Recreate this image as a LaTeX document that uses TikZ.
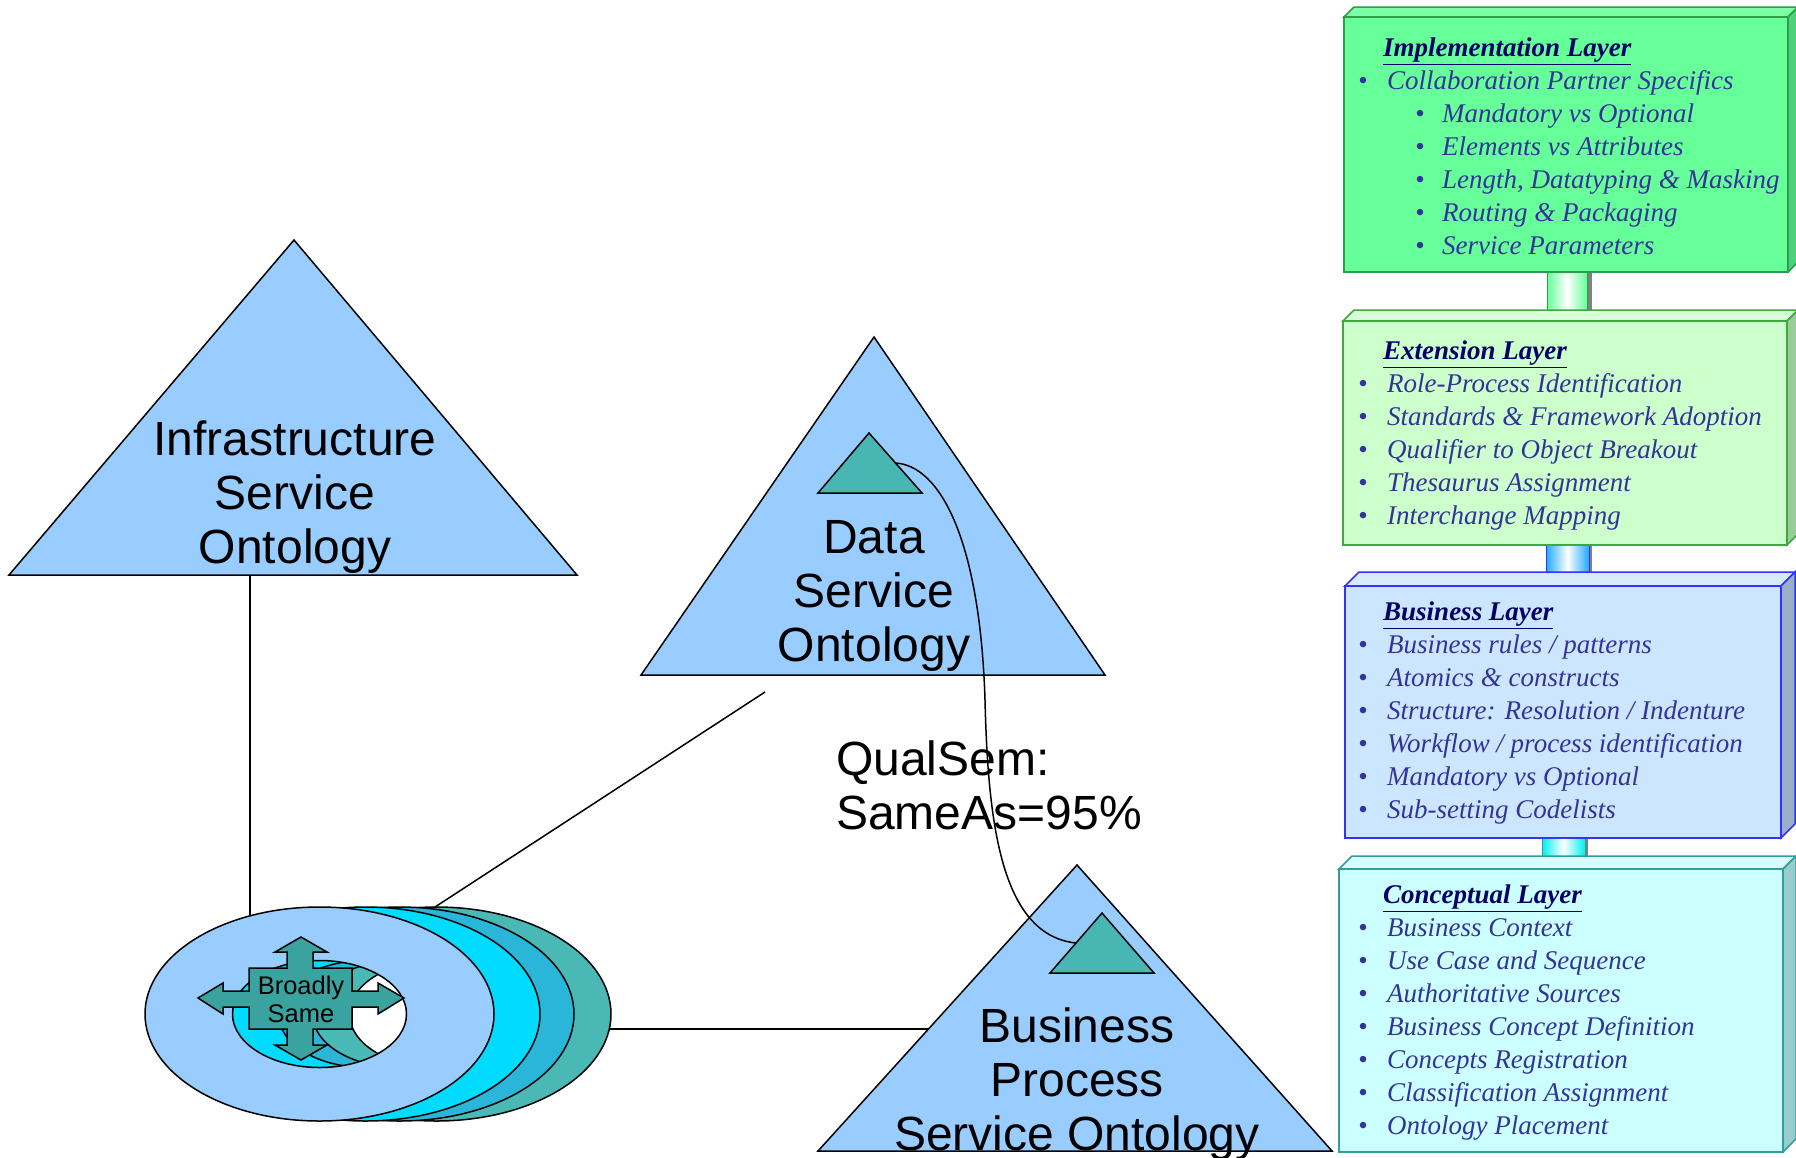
\documentclass[tikz,border=0pt]{standalone}
\usepackage{fontspec}
\setmainfont{Liberation Serif}
\setsansfont{Liberation Sans}
\definecolor{skyblue}{HTML}{99CCFF}
\definecolor{seedteal}{HTML}{48B7B3}
\definecolor{ringcyan}{HTML}{00DBFF}
\definecolor{ringblue}{HTML}{29B6D9}
\definecolor{ringteal}{HTML}{4AB8B5}
\definecolor{crossteal}{HTML}{3AA39F}
\definecolor{itemblue}{HTML}{333399}
\definecolor{titleblue}{HTML}{000066}
\definecolor{implFront}{HTML}{66FF99}
\definecolor{implTop}{HTML}{7DFFA8}
\definecolor{implSide}{HTML}{4FD07A}
\definecolor{implEdge}{HTML}{2E9E4A}
\definecolor{extFront}{HTML}{CCFFCC}
\definecolor{extTop}{HTML}{D8FFD8}
\definecolor{extSide}{HTML}{99CC99}
\definecolor{extEdge}{HTML}{3FA83F}
\definecolor{busFront}{HTML}{CCE6FF}
\definecolor{busTop}{HTML}{D6EBFF}
\definecolor{busSide}{HTML}{9AAEC6}
\definecolor{busEdge}{HTML}{3333FF}
\definecolor{conFront}{HTML}{CCFFFF}
\definecolor{conTop}{HTML}{D8FFFF}
\definecolor{conSide}{HTML}{99CCCC}
\definecolor{conEdge}{HTML}{339E9E}
\definecolor{pipeBlue}{HTML}{22AAFF}
\definecolor{pipeCyan}{HTML}{00F0F0}
\tikzset{bigtri/.style={draw=black, fill=skyblue, line width=1.5pt, line join=miter}}
\tikzset{seedtri/.style={draw=black, fill=seedteal, line width=1.5pt}}
\tikzset{link/.style={draw=black, line width=1.5pt}}
\tikzset{ring/.style={draw=black, line width=1.5pt, even odd rule}}
\tikzset{crossarrow/.style={draw=black, fill=crossteal, line width=1.5pt, line join=miter}}
\tikzset{pipe/.style={left color=#1, right color=#1, middle color=white}}
\tikzset{bigtext/.style={font=\sffamily\fontsize{48}{54}\selectfont, align=center, inner sep=0pt}}
\tikzset{smalltext/.style={font=\sffamily\fontsize{25.5}{28}\selectfont, align=center, inner sep=0pt}}
\tikzset{layertext/.style={anchor=north west, inner sep=0pt, align=left, text=itemblue, font=\itshape\fontsize{27}{33}\selectfont}}
\newcommand{\heading}[1]{{\color{titleblue}\underline{\textbf{#1}}}}
\newcommand{\point}{\makebox[29pt][l]{\textbullet}}
\newcommand{\subpoint}{\hspace*{57pt}\makebox[27pt][l]{\textbullet}}
\newcommand{\layerbox}[6]{%
  \filldraw[fill=#1Top, draw=#1Edge, line width=1.5pt] (#2,#3) -- ++(#6,-#6) -- (#4+#6,#3-#6) -- (#4,#3) -- cycle;
  \filldraw[fill=#1Side, draw=#1Edge, line width=1.5pt] (#4,#3) -- ++(#6,-#6) -- (#4+#6,#5-#6) -- (#4,#5) -- cycle;
  \filldraw[fill=#1Front, draw=#1Edge, line width=1.5pt] (#2,#3) rectangle (#4,#5);}

\begin{document}
\begin{tikzpicture}[x=1pt,y=-1pt]
\useasboundingbox (0,0) rectangle (1796,1157);
% ontology triangles
\filldraw[bigtri] (9,575) -- (294,240) -- (577,575) -- cycle;
\filldraw[bigtri] (641,675) -- (874,337) -- (1105,675) -- cycle;
\filldraw[bigtri] (818,1151) -- (1077,865) -- (1332,1151) -- cycle;
\filldraw[seedtri] (818,493) -- (869,433) -- (922,493) -- cycle;
\filldraw[seedtri] (1050,973) -- (1102,913) -- (1154,973) -- cycle;
\node[bigtext] (infra) at (295,497) {Infrastructure\\Service\\Ontology};
\node[bigtext] (data) at (874,596) {Data\\Service\\Ontology};
\node[bigtext] (process) at (1077,1084) {Business\\Process\\Service Ontology};
\node[bigtext, align=left, anchor=west] (qualsem) at (836,785) {QualSem:\\SameAs=95\%};
\coordinate (infrafoot) at (250,575);
\coordinate (datafoot) at (765,692);
\coordinate (processside) at (929,1029);
\coordinate (ringtop) at (250,915);
\coordinate (ringback) at (435,907);
\coordinate (ringright) at (609,1029);
\coordinate (dataseed) at (895,463);
\coordinate (processseed) at (1076,943);
%Edge
\draw[link] (infrafoot) -- (ringtop);
\draw[link] (datafoot) -- (ringback);
\draw[link] (ringright) -- (processside);
% stacked rings
\foreach \shift/\col in {117/ringteal, 80/ringblue, 46/ringcyan, 0/skyblue}
  \filldraw[ring, fill=\col] (319.5+\shift,1014) ellipse [x radius=174.5, y radius=107]
    (319.5+\shift,1014) ellipse [x radius=87, y radius=53.5];
\filldraw[crossarrow] (301,937) -- (327,952) -- (313,952) -- (313,968) -- (352,968) -- (352,991)
  -- (378,991) -- (378,983) -- (404,998) -- (378,1014) -- (378,1007) -- (352,1007) -- (352,1029)
  -- (313,1029) -- (313,1045) -- (327,1045) -- (301,1060) -- (275,1045) -- (287,1045) -- (287,1029)
  -- (249,1029) -- (249,1007) -- (223,1007) -- (223,1014) -- (198,998) -- (223,983) -- (223,991)
  -- (249,991) -- (249,968) -- (287,968) -- (287,952) -- (275,952) -- cycle;
\node[smalltext] (broadly) at (301,999) {Broadly\\Same};
\draw[link] (dataseed) .. controls (940,465) and (980,540) .. (985,700)
  .. controls (988,820) and (1000,935) .. (processseed);
% layer stack
\fill[gray] (1585,262) rectangle (1592,330);
\shade[pipe=implFront, draw=implEdge, line width=1pt] (1547,262) rectangle (1587,330);
\fill[gray] (1587,535) rectangle (1592,596);
\shade[pipe=pipeBlue, draw=busEdge, line width=1pt] (1546,535) rectangle (1589,596);
\fill[gray] (1583,828) rectangle (1588,879);
\shade[pipe=pipeCyan, draw=conEdge, line width=1pt] (1542,828) rectangle (1585,879);
\layerbox{impl}{1344}{17}{1788}{272}{10}
\layerbox{ext}{1343}{321}{1787}{545}{11}
\layerbox{bus}{1345}{586}{1781}{838}{14}
\layerbox{con}{1339}{869}{1783}{1152}{13}
\node[layertext] (impl) at (1358,38) {\hspace*{25pt}\heading{Implementation Layer}\\
  \point Collaboration Partner Specifics\\
  \subpoint Mandatory vs Optional\\
  \subpoint Elements vs Attributes\\
  \subpoint Length, Datatyping \& Masking\\
  \subpoint Routing \& Packaging\\
  \subpoint Service Parameters};
\node[layertext] (ext) at (1358,341) {\hspace*{25pt}\heading{Extension Layer}\\
  \point Role-Process Identification\\
  \point Standards \& Framework Adoption\\
  \point Qualifier to Object Breakout\\
  \point Thesaurus Assignment\\
  \point Interchange Mapping};
\node[layertext] (business) at (1358,602) {\hspace*{25pt}\heading{Business Layer}\\
  \point Business rules / patterns\\
  \point Atomics \& constructs\\
  \point Structure: Resolution / Indenture\\
  \point Workflow / process identification\\
  \point Mandatory vs Optional\\
  \point Sub-setting Codelists};
\node[layertext] (concept) at (1358,885) {\hspace*{25pt}\heading{Conceptual Layer}\\
  \point Business Context\\
  \point Use Case and Sequence\\
  \point Authoritative Sources\\
  \point Business Concept Definition\\
  \point Concepts Registration\\
  \point Classification Assignment\\
  \point Ontology Placement};
\end{tikzpicture}
\end{document}
